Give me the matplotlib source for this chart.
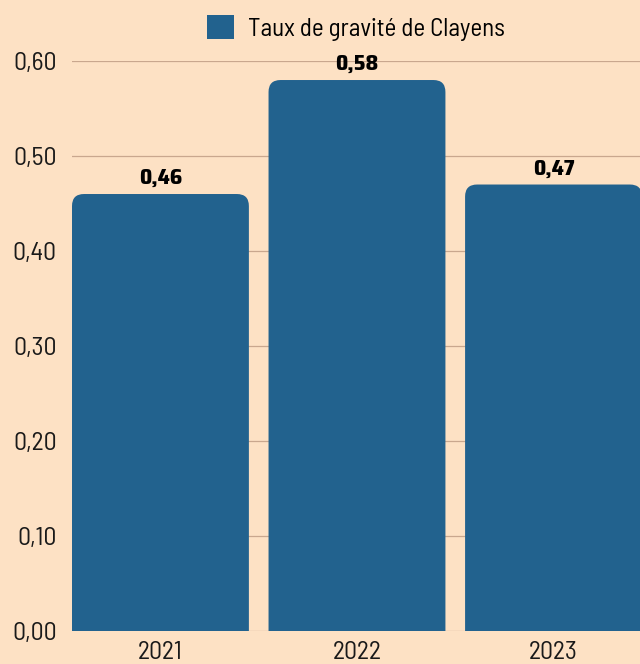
import matplotlib
matplotlib.use("Agg")
import matplotlib.pyplot as plt
from matplotlib.patches import FancyBboxPatch, Patch

years = ["2021", "2022", "2023"]
taux = [0.46, 0.58, 0.47]
yticks = [0.0, 0.1, 0.2, 0.3, 0.4, 0.5, 0.6]
serie = "Taux de gravité de Clayens"

bg = "#fde1c4"
bleu = "#22628e"
grille = "#c9a78e"
police = ["Barlow Semi Condensed", "Roboto", "DejaVu Sans"]
police_val = ["Saira SemiCondensed", "Roboto", "DejaVu Sans"]

fig = plt.figure(figsize=(6.4, 6.64), dpi=100, facecolor=bg)
ax = fig.add_axes([0.1125, 0.0497, 0.8875, 0.8584], facecolor=bg)

x = range(len(years))
bars = ax.bar(x, taux, width=0.9, color=bleu, alpha=0)
ax.set_xlim(-0.45, 2.44)
ax.set_ylim(0, 0.6)

# rounded tops: rebuild each bar as a rounded box, bottom corners pushed below zero
fig.canvas.draw()
p0 = ax.transData.transform((0, 0))
p1 = ax.transData.transform((1, 1))
px_x = p1[0] - p0[0]
px_y = p1[1] - p0[1]
r = 12 / px_x
aspect = px_x / px_y
for b in bars:
    bx, bw, bh = b.get_x(), b.get_width(), b.get_height()
    box = FancyBboxPatch((bx + r, -0.05), bw - 2 * r, bh + 0.05 - r * aspect,
                         boxstyle=f"round,pad={r},rounding_size={r}",
                         mutation_aspect=aspect, facecolor=bleu, edgecolor="none",
                         zorder=3)
    ax.add_patch(box)
    ax.text(bx + bw / 2, bh + 0.006, f"{bh:.2f}".replace(".", ","),
            ha="center", va="bottom", fontsize=15.5, fontweight=800,
            family=police_val, zorder=4, clip_on=False)

ax.set_yticks(yticks)
ax.set_yticklabels([f"{v:.2f}".replace(".", ",") for v in yticks],
                   fontsize=18.5, family=police, fontweight=400, color="#1a1a1a")
ax.set_xticks(list(x))
ax.set_xticklabels(years, fontsize=18.5, family=police, fontweight=400, color="#1a1a1a")
ax.tick_params(length=0, pad=11)
ax.tick_params(axis="x", pad=7)
ax.grid(axis="y", color=grille, linewidth=0.9)
ax.set_axisbelow(True)
for s in ax.spines.values():
    s.set_visible(False)

leg = ax.legend(handles=[Patch(facecolor=bleu, edgecolor="none", label=serie)],
                loc="center", bbox_to_anchor=(0.5, 1.058), frameon=False,
                prop={"family": police, "size": 18, "weight": 400},
                handlelength=1.1, handleheight=1.1, handletextpad=0.55)

fig.savefig("out.png", dpi=100, facecolor=bg)
